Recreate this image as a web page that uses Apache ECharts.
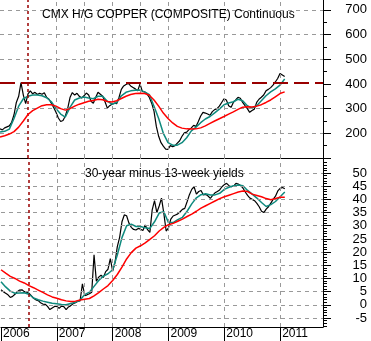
<!DOCTYPE html>
<html><head><meta charset="utf-8">
<script src="https://cdn.jsdelivr.net/npm/echarts@6/dist/echarts.min.js"></script>
<style>html,body{margin:0;padding:0;background:#fff}#c{width:371px;height:341px}</style>
</head><body><div id="c"></div>
<script>
// ---- data ----
const copperTitle = 'CMX H/G COPPER (COMPOSITE) Continuous';
const spreadTitle = '30-year minus 13-week yields';
const yearTicks = [2006, 2007, 2008, 2009, 2010, 2011];
const gridYears = [2007, 2007.5, 2008, 2008.5, 2009, 2010, 2011];
const markerYear = 2006.5;
const copperResistance = 405;
const copperTicks = [200, 300, 400, 500, 600, 700];
const spreadTicks = [-5, 0, 5, 10, 15, 20, 25, 30, 35, 40, 45, 50];
const startYear = 2006;
// semi-monthly closes from Jan 2006
const copperPrice = [218,214,222,226,230,245,275,325,350,405,
355,320,360,372,360,366,357,362,358,364,
345,338,322,305,285,262,248,252,270,300,
345,365,355,362,350,343,352,363,355,330,
322,345,366,358,350,328,302,312,318,322,
320,345,378,392,398,402,392,386,380,372,
400,370,368,360,345,322,290,228,188,162,
148,136,135,150,146,150,160,170,188,202,
205,215,222,232,228,248,270,285,282,278,
273,288,296,300,310,325,340,335,312,305,
325,335,346,342,325,312,300,285,292,298,
325,338,346,355,372,378,385,395,408,422,
442,436,430];
// monthly moving averages from Jan 2006
const copperFastMA = [205,208,217,260,310,340,350,355,355,352,
344,328,300,278,266,305,335,343,347,343,
340,350,350,330,318,325,352,366,372,374,
375,368,357,310,260,200,162,152,152,162,
182,210,225,243,258,268,283,298,316,323,
328,338,332,312,302,312,332,352,368,380,
395,420];
const copperSlowMA = [185,190,197,207,225,250,276,292,302,312,
316,316,310,300,294,300,310,318,324,330,
333,338,336,329,327,332,341,350,357,361,
362,361,354,335,310,282,260,242,228,221,
218,217,218,222,230,240,250,259,268,278,
287,297,306,308,307,310,316,325,335,348,
361,368];
const spreadPrice = [5.7,5.0,4.4,3.8,2.8,3.2,4.0,5.0,5.6,5.7,
5.0,4.8,4.4,3.5,2.5,1.9,1.6,0.8,0.3,0.2,
-0.6,-1.8,-1.2,-0.6,-0.6,-1.3,-0.5,-0.7,-1.8,-0.8,
-0.3,0.4,0.8,1.4,1.5,8.0,3.5,3.8,4.2,4.8,
19.0,9.0,10.5,11.2,10.4,12.6,13.5,17.5,12.8,16.0,
22.1,25.6,31.5,34.1,33.8,31.0,29.4,28.6,28.4,29.0,
28.7,28.2,30.3,28.5,27.5,36.0,39.5,35.0,37.5,40.5,
34.7,28.0,29.2,32.5,33.7,34.1,34.5,35.3,36.2,36.6,
39.1,41.8,43.8,44.8,42.0,43.0,43.4,41.7,41.9,41.3,
40.4,41.5,42.5,43.0,43.6,44.8,45.6,46.1,45.2,44.8,
45.0,46.1,45.8,45.3,44.3,42.8,41.5,40.5,40.0,39.5,
38.5,37.2,35.5,35.0,36.3,37.2,38.6,40.0,41.2,43.2,
44.2,44.5,44.0];
const spreadFastMA = [8.8,6.8,5.2,4.4,4.5,4.6,4.0,2.6,1.9,1.4,
1.0,0.6,0.4,0.1,0.0,0.5,1.0,1.8,3.9,4.8,
7.0,9.2,10.9,11.8,13.3,18.9,25.5,30.0,30.6,29.7,
29.7,29.2,29.0,31.5,34.8,35.3,31.2,31.2,32.3,33.2,
35.5,38.3,40.6,41.8,42.1,41.7,41.7,42.3,43.8,44.6,
45.2,45.5,45.2,43.4,42.0,40.5,38.8,37.3,38.0,39.2,
41.0,42.8];
const spreadSlowMA = [13.3,12.0,10.8,10.0,9.0,8.3,7.3,6.5,5.6,4.7,
3.8,3.0,2.5,1.9,1.5,1.3,1.4,1.8,2.1,2.4,
3.4,4.6,6.0,7.3,9.2,11.5,14.3,17.4,19.8,21.5,
22.4,23.5,24.8,26.2,28.0,29.4,30.4,30.9,31.7,32.5,
33.5,34.4,35.5,36.7,37.6,38.5,39.4,40.3,41.0,41.6,
42.2,42.8,43.2,43.0,42.0,41.5,41.0,40.3,39.9,40.3,
40.8,40.8];

// ---- build ----
const semi = arr => arr.map((v, i) => [startYear + i / 24, v]);
const monthly = arr => arr.map((v, i) => [startYear + i / 12, v]);
const FONT = '"Liberation Sans", Arial, sans-serif';
const GRID_COLOR = '#999999';
const MARK_RED = '#990000';

function gridMarks(gi, hTicks) {
  const gs = { color: GRID_COLOR, type: [4, 4], width: 1 };
  const d = gridYears.map(y => ({ xAxis: y, lineStyle: gs }));
  hTicks.forEach(v => d.push({ yAxis: v, lineStyle: gs }));
  d.push({ xAxis: markerYear, lineStyle: { color: MARK_RED, type: [3, 3], width: 1.5 } });
  if (gi === 0) d.push({ yAxis: copperResistance, lineStyle: { color: MARK_RED, type: [15, 6], width: 2 } });
  return {
    type: 'line', xAxisIndex: gi, yAxisIndex: gi, data: [], z: 1, silent: true,
    markLine: { silent: true, symbol: 'none', label: { show: false }, animation: false, data: d }
  };
}
function line(gi, data, color, width, z) {
  return { type: 'line', xAxisIndex: gi, yAxisIndex: gi, data, showSymbol: false, symbol: 'none',
    lineStyle: { color, width }, z, silent: true, animation: false };
}
const xBase = { type: 'value', min: 2006, max: 2006 + 323 / 56, splitLine: { show: false } };
const yLabel = { show: true, margin: 44, align: 'right', fontSize: 13, color: '#000', fontFamily: FONT };

const chart = echarts.init(document.getElementById('c'), null, { renderer: 'canvas' });
chart.setOption({
  animation: false,
  backgroundColor: '#fff',
  title: [
    { text: copperTitle, left: 37, top: 4, textStyle: { fontSize: 12, fontWeight: 'normal', color: '#000', fontFamily: FONT } },
    { text: spreadTitle, left: 80, top: 163, textStyle: { fontSize: 12, fontWeight: 'normal', color: '#000', fontFamily: FONT } }
  ],
  grid: [
    { left: 0, top: 0, width: 323, height: 158 },
    { left: 0, top: 158, width: 323, height: 169 }
  ],
  xAxis: [
    Object.assign({}, xBase, { gridIndex: 0, axisLine: { show: true, onZero: false, lineStyle: { color: '#000', width: 1 } },
      axisTick: { show: false }, axisLabel: { show: false } }),
    Object.assign({}, xBase, { gridIndex: 1, axisLine: { show: true, onZero: false, lineStyle: { color: '#000', width: 1 } },
      axisTick: { show: true, length: 14, customValues: yearTicks, lineStyle: { color: '#000' } },
      axisLabel: { show: true, customValues: yearTicks, formatter: v => String(v), align: 'left', margin: 1,
        padding: [0, 0, 0, 2], fontSize: 12, color: '#000', fontFamily: FONT } })
  ],
  yAxis: [
    { gridIndex: 0, type: 'value', position: 'right', min: 100, max: 740, interval: 100,
      axisLine: { show: true, onZero: false, lineStyle: { color: '#000', width: 1 } },
      axisTick: { show: true, inside: false, length: 8, customValues: copperTicks.concat([100]), lineStyle: { color: '#000' } },
      minorTick: { show: true, splitNumber: 2, length: 4, lineStyle: { color: '#000' } },
      axisLabel: Object.assign({ customValues: copperTicks }, yLabel),
      splitLine: { show: false } },
    { gridIndex: 1, type: 'value', position: 'right', min: -8.41, max: 55.7, splitNumber: 12, minInterval: 5, maxInterval: 5,
      axisLine: { show: true, onZero: false, lineStyle: { color: '#000', width: 1 } },
      axisTick: { show: true, inside: false, length: 8, customValues: spreadTicks, lineStyle: { color: '#000' } },
      minorTick: { show: true, splitNumber: 5, length: 4, lineStyle: { color: '#000' } },
      axisLabel: Object.assign({ customValues: spreadTicks }, yLabel),
      splitLine: { show: false } }
  ],
  series: [
    gridMarks(0, copperTicks.filter(v => v !== 400)), gridMarks(1, spreadTicks),
    line(0, semi(copperPrice), '#000', 1.2, 3),
    line(0, monthly(copperFastMA), '#0f8a7e', 1.5, 4),
    line(0, monthly(copperSlowMA), '#ff0000', 1.5, 5),
    line(1, semi(spreadPrice), '#000', 1.2, 3),
    line(1, monthly(spreadFastMA), '#0f8a7e', 1.5, 4),
    line(1, monthly(spreadSlowMA), '#ff0000', 1.5, 5)
  ]
});
</script></body></html>
